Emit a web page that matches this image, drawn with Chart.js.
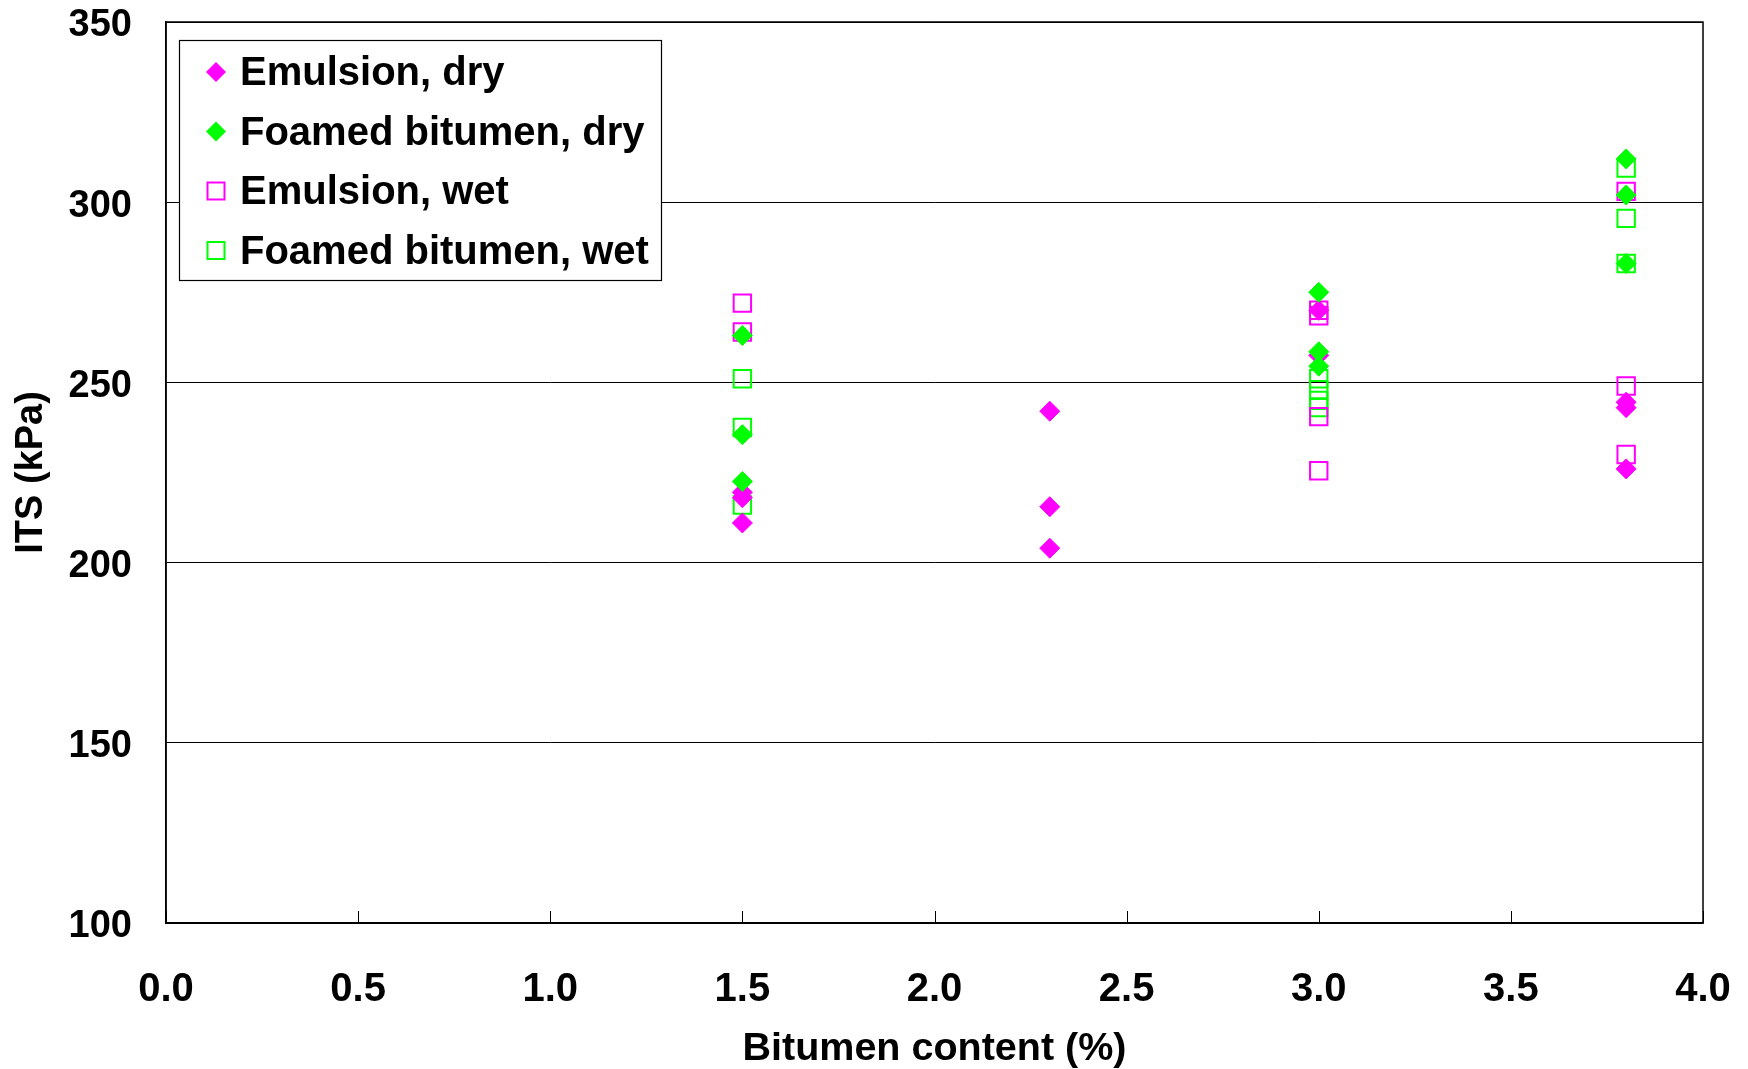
<!DOCTYPE html>
<html>
<head>
<meta charset="utf-8">
<script src="https://cdn.jsdelivr.net/npm/chart.js@4.4.0/dist/chart.umd.min.js"></script>
<style>
  body { margin: 0; background: #fff; }
  #wrap { width: 1748px; height: 1069px; }
</style>
</head>
<body>
<div id="wrap"><canvas id="plot" width="1748" height="1069"></canvas></div>
<script>
// values
let emulsionDryX = [1.5, 1.5, 1.5, 2.3, 2.3, 2.3, 3.0, 3.0, 3.8, 3.8, 3.8];
let emulsionDryY = [219.5, 218, 211, 242, 215.5, 204, 270, 257.5, 244.5, 243, 226];
let foamedDryX = [1.5, 1.5, 1.5, 3.0, 3.0, 3.0, 3.8, 3.8, 3.8];
let foamedDryY = [263, 235.5, 222.5, 275, 258.5, 254.5, 312, 302, 283];
let emulsionWetX = [1.5, 1.5, 3.0, 3.0, 3.0, 3.0, 3.8, 3.8, 3.8];
let emulsionWetY = [272, 264, 270, 268.5, 240.5, 225.5, 303, 249, 230];
let foamedWetX = [1.5, 1.5, 1.5, 3.0, 3.0, 3.0, 3.0, 3.8, 3.8, 3.8];
let foamedWetY = [251, 237.5, 216, 251, 248, 245, 243, 309.5, 295.5, 283];

let seriesNames = ['Emulsion, dry', 'Foamed bitumen, dry', 'Emulsion, wet', 'Foamed bitumen, wet'];
let xTicks = [0, 0.5, 1, 1.5, 2, 2.5, 3, 3.5, 4];

const MAGENTA = '#ff00ff';
const GREEN = '#00ff00';
const FONT = '"Liberation Sans", Arial, sans-serif';

let toPoints = (xs, ys) => xs.map((x, i) => ({x: x, y: ys[i]}));

let makeSet = (label, xs, ys, color, filled, order) => ({
    label: label,
    data: toPoints(xs, ys),
    pointStyle: filled ? 'rectRot' : 'rect',
    pointRadius: filled ? 10 : 12.3,
    pointHoverRadius: filled ? 10 : 12.3,
    pointBorderWidth: filled ? 1 : 2,
    borderColor: color,
    backgroundColor: filled ? color : 'rgba(0,0,0,0)',
    showLine: false,
    order: order
});

// frame round the plot and small inward ticks on the x axis
let frame = {
    id: 'frame',
    afterDraw(chart) {
        let {ctx, chartArea: a} = chart;
        let xs = chart.scales.x;
        ctx.save();
        ctx.strokeStyle = '#000';
        ctx.lineWidth = 1;
        ctx.beginPath();
        xTicks.forEach(v => {
            let px = Math.round(xs.getPixelForValue(v)) + 0.5;
            ctx.moveTo(px, a.bottom);
            ctx.lineTo(px, a.bottom - 12);
        });
        ctx.stroke();
        ctx.lineWidth = 1.5;
        ctx.strokeRect(a.left, a.top, a.right - a.left, a.bottom - a.top);
        ctx.restore();
    }
};

let drawMarker = (ctx, style, x, y, color) => {
    ctx.beginPath();
    if (style === 'rectRot') {
        let r = 10;
        ctx.moveTo(x - r, y); ctx.lineTo(x, y - r); ctx.lineTo(x + r, y); ctx.lineTo(x, y + r);
        ctx.closePath();
        ctx.fillStyle = color;
        ctx.fill();
    } else {
        let h = 8.5;
        ctx.rect(x - h, y - h, 2 * h, 2 * h);
        ctx.strokeStyle = color;
        ctx.lineWidth = 2;
        ctx.stroke();
    }
};

// boxed legend inside the plot, top left
let legendBox = {
    id: 'legendBox',
    afterDatasetsDraw(chart) {
        let {ctx, chartArea: a} = chart;
        let left = a.left + 13, top = a.top + 18, w = 482, h = 240;
        ctx.save();
        ctx.fillStyle = '#fff';
        ctx.fillRect(left, top, w, h);
        ctx.strokeStyle = '#000';
        ctx.lineWidth = 1.2;
        ctx.strokeRect(left + 0.5, top + 0.5, w, h);
        ctx.font = 'bold 40px ' + FONT;
        ctx.textBaseline = 'middle';
        chart.data.datasets.forEach((ds, i) => {
            let y = top + 32 + i * 59.5;
            drawMarker(ctx, ds.pointStyle, left + 37, y, ds.borderColor);
            ctx.fillStyle = '#000';
            ctx.fillText(ds.label, left + 61, y + 2);
        });
        ctx.restore();
    }
};

let config = {
    type: 'scatter',
    data: {
        datasets: [
            makeSet(seriesNames[0], emulsionDryX, emulsionDryY, MAGENTA, true, 1),
            makeSet(seriesNames[1], foamedDryX, foamedDryY, GREEN, true, 0),
            makeSet(seriesNames[2], emulsionWetX, emulsionWetY, MAGENTA, false, 2),
            makeSet(seriesNames[3], foamedWetX, foamedWetY, GREEN, false, 3)
        ]
    },
    options: {
        responsive: false,
        animation: false,
        layout: { padding: { left: 0, right: 45, top: 22, bottom: 0 } },
        plugins: {
            legend: { display: false },
            tooltip: { enabled: false }
        },
        scales: {
            x: {
                type: 'linear',
                min: 0,
                max: 4,
                afterBuildTicks: (s) => { s.ticks = xTicks.map(v => ({value: v})); },
                afterFit: (s) => { s.height = 146; s.paddingLeft = 0; s.paddingRight = 0; },
                grid: { display: true, drawOnChartArea: false, drawTicks: false, color: '#000' },
                border: { color: '#000', width: 1.5 },
                ticks: {
                    color: '#000',
                    padding: 47,
                    font: { family: FONT, size: 40, weight: 'bold', lineHeight: 1.0 },
                    callback: (v) => Number(v).toFixed(1)
                },
                title: {
                    display: true,
                    text: 'Bitumen content (%)',
                    color: '#000',
                    padding: { top: 0, bottom: 0 },
                    font: { family: FONT, size: 39.5, weight: 'bold', lineHeight: 1.0 }
                }
            },
            y: {
                min: 100,
                max: 350,
                afterFit: (s) => { s.width = 166; s.paddingTop = 0; s.paddingBottom = 0; },
                grid: { color: '#000', lineWidth: 1, drawTicks: false },
                border: { color: '#000', width: 1.5 },
                ticks: {
                    stepSize: 50,
                    color: '#000',
                    padding: 34,
                    labelOffset: 4,
                    font: { family: FONT, size: 38, weight: 'bold', lineHeight: 1.0 }
                },
                title: {
                    display: true,
                    text: 'ITS (kPa)',
                    color: '#000',
                    padding: { top: 9, bottom: 0 },
                    font: { family: FONT, size: 38, weight: 'bold', lineHeight: 1.2 }
                }
            }
        }
    },
    plugins: [frame, legendBox]
};

new Chart(document.getElementById('plot'), config);
</script>
</body>
</html>
